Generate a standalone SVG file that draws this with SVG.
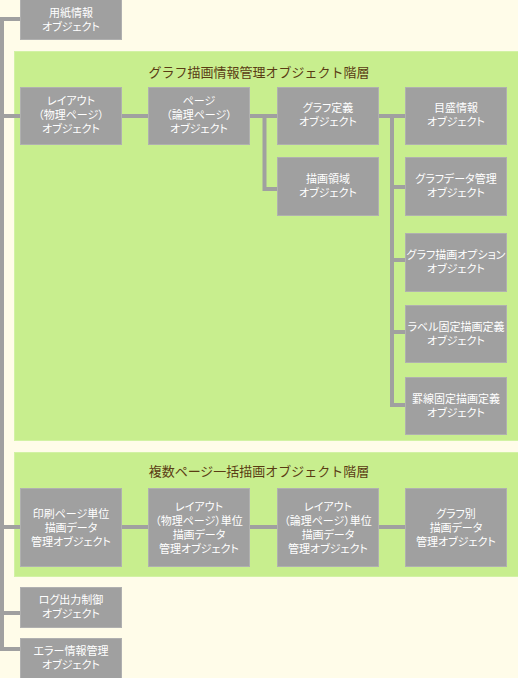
<svg xmlns="http://www.w3.org/2000/svg" width="518" height="678" viewBox="0 0 518 678">
<style>
.bg{fill:#FFFCE9}
.panel{fill:#C8EE8E;stroke:#D2F2A4;stroke-width:1}
.box rect{fill:#A0A0A0;stroke:#B0B0B0;stroke-width:1}
.box text{fill:#FFFFFF;font-family:"Liberation Sans","Noto Sans CJK JP",sans-serif;font-size:11px;text-anchor:middle;font-feature-settings:"palt"}
.title{fill:#5A3C14;font-family:"Noto Sans CJK JP","Noto Sans",sans-serif;font-size:13px;text-anchor:middle}
.conn path{fill:none;stroke:#A0A0A0;stroke-width:4;stroke-linejoin:miter}
</style>
<rect class="bg" x="0" y="0" width="518" height="678"/>
<g id="panel1"><rect class="panel" x="14.5" y="51.5" width="504" height="389"/><text class="title" x="259" y="77">グラフ描画情報管理オブジェクト階層</text></g>
<g id="panel2"><rect class="panel" x="14.5" y="452.5" width="504" height="124"/><text class="title" x="259" y="476">複数ページ一括描画オブジェクト階層</text></g>
<g class="conn" id="connectors">
<path d="M20 649 H2 V19 H20"/>
<path d="M2 116 H20"/>
<path d="M2 527 H20"/>
<path d="M2 613 H20"/>
<path d="M122 116 H148"/>
<path d="M250 116 H277"/>
<path d="M264.5 116 V189 H277"/>
<path d="M379 116 H405"/>
<path d="M392 116 V405 H405"/>
<path d="M392 187 H405"/>
<path d="M392 260 H405"/>
<path d="M392 332 H405"/>
<path d="M122 527 H148"/>
<path d="M250 527 H277"/>
<path d="M379 527 H405"/>
</g>
<g class="box" id="n_paper"><rect x="20.5" y="-0.5" width="101" height="40"/><text x="71" y="17">用紙情報<tspan x="71" dy="14">オブジェクト</tspan></text></g>
<g class="box" id="n_layout"><rect x="20.5" y="87.5" width="101" height="57"/><text x="71" y="105">レイアウト<tspan x="71" dy="14">（物理ページ）</tspan><tspan x="71" dy="14">オブジェクト</tspan></text></g>
<g class="box" id="n_page"><rect x="148.5" y="87.5" width="101" height="57"/><text x="199" y="105">ページ<tspan x="199" dy="14">（論理ページ）</tspan><tspan x="199" dy="14">オブジェクト</tspan></text></g>
<g class="box" id="n_graphdef"><rect x="277.5" y="87.5" width="101" height="57"/><text x="328" y="112">グラフ定義<tspan x="328" dy="14">オブジェクト</tspan></text></g>
<g class="box" id="n_scale"><rect x="405.5" y="87.5" width="101" height="57"/><text x="456" y="112">目盛情報<tspan x="456" dy="14">オブジェクト</tspan></text></g>
<g class="box" id="n_area"><rect x="277.5" y="157.5" width="101" height="58"/><text x="328" y="183">描画領域<tspan x="328" dy="14">オブジェクト</tspan></text></g>
<g class="box" id="n_gdata"><rect x="405.5" y="157.5" width="101" height="58"/><text x="456" y="183">グラフデータ管理<tspan x="456" dy="14">オブジェクト</tspan></text></g>
<g class="box" id="n_gopt"><rect x="405.5" y="233.5" width="101" height="58"/><text x="456" y="259">グラフ描画オプション<tspan x="456" dy="14">オブジェクト</tspan></text></g>
<g class="box" id="n_label"><rect x="405.5" y="305.5" width="101" height="57"/><text x="456" y="331">ラベル固定描画定義<tspan x="456" dy="14">オブジェクト</tspan></text></g>
<g class="box" id="n_rule"><rect x="405.5" y="377.5" width="101" height="57"/><text x="456" y="403">罫線固定描画定義<tspan x="456" dy="14">オブジェクト</tspan></text></g>
<g class="box" id="n_m1"><rect x="20.5" y="488.5" width="101" height="78"/><text x="71" y="518">印刷ページ単位<tspan x="71" dy="14">描画データ</tspan><tspan x="71" dy="14">管理オブジェクト</tspan></text></g>
<g class="box" id="n_m2"><rect x="148.5" y="488.5" width="101" height="78"/><text x="199" y="511">レイアウト<tspan x="199" dy="14">（物理ページ）単位</tspan><tspan x="199" dy="14">描画データ</tspan><tspan x="199" dy="14">管理オブジェクト</tspan></text></g>
<g class="box" id="n_m3"><rect x="277.5" y="488.5" width="101" height="78"/><text x="328" y="511">レイアウト<tspan x="328" dy="14">（論理ページ）単位</tspan><tspan x="328" dy="14">描画データ</tspan><tspan x="328" dy="14">管理オブジェクト</tspan></text></g>
<g class="box" id="n_m4"><rect x="405.5" y="488.5" width="101" height="78"/><text x="456" y="518">グラフ別<tspan x="456" dy="14">描画データ</tspan><tspan x="456" dy="14">管理オブジェクト</tspan></text></g>
<g class="box" id="n_log"><rect x="20.5" y="587.5" width="101" height="40"/><text x="71" y="604">ログ出力制御<tspan x="71" dy="14">オブジェクト</tspan></text></g>
<g class="box" id="n_err"><rect x="20.5" y="638.5" width="101" height="40"/><text x="71" y="655">エラー情報管理<tspan x="71" dy="14">オブジェクト</tspan></text></g>
</svg>
